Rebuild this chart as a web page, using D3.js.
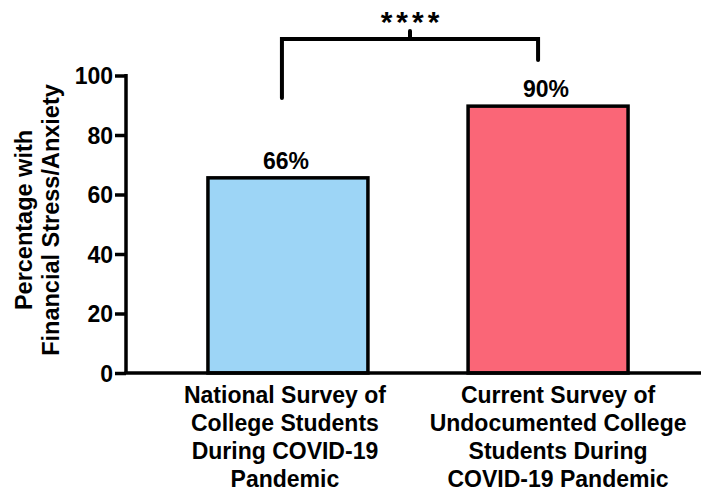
<!DOCTYPE html>
<html><head><meta charset="utf-8">
<script src="https://cdn.jsdelivr.net/npm/d3@7"></script>
<style>
body{margin:0;background:#fff;}
text{font-family:"Liberation Sans",Arial,sans-serif;font-weight:bold;fill:#000;}
</style></head>
<body>
<svg id="c" width="701" height="492"></svg>
<script>
const categories = [
  ["National Survey of","College Students","During COVID-19","Pandemic"],
  ["Current Survey of","Undocumented College","Students During","COVID-19 Pandemic"]
];
const values = [65.6, 89.7];
const valueLabels = ["66%", "90%"];
const colors = ["#9dd5f6", "#fa6677"];
const yTicks = [0, 20, 40, 60, 80, 100];
const yTitle = ["Percentage with", "Financial Stress/Anxiety"];
const sigLabel = "****";

const svg = d3.select("#c");
const ids = [0, 1];
const x = d3.scaleBand().domain(ids).range([126, 710]).paddingInner(0.385).paddingOuter(0.315);
const y = d3.scaleLinear().domain([0, 100]).range([373, 75.5]);

// bars
svg.selectAll("rect.bar").data(ids).enter().append("rect")
  .attr("x", i => x(i)).attr("y", i => y(values[i]))
  .attr("width", x.bandwidth()).attr("height", i => y(0) - y(values[i]))
  .attr("fill", i => colors[i]).attr("stroke", "#000").attr("stroke-width", 3.5);

// value labels
svg.selectAll("text.val").data(ids).enter().append("text")
  .attr("x", i => x(i) + x.bandwidth()/2 - 2).attr("y", i => y(values[i]) - 9)
  .attr("text-anchor", "middle").attr("font-size", 23).text(i => valueLabels[i]);

// y axis
const yAxis = d3.axisLeft(y).tickValues(yTicks).tickSize(11).tickPadding(2).tickSizeOuter(0);
const gy = svg.append("g").attr("transform", "translate(126,0)").call(yAxis);
gy.select(".domain").attr("stroke", "#000").attr("stroke-width", 3.5).attr("d", `M0,${y(100)-1.5}V${y(0)}`);
gy.selectAll(".tick line").attr("stroke", "#000").attr("stroke-width", 3.5);
gy.selectAll(".tick text").attr("font-size", 23).attr("font-family", "Liberation Sans, Arial, sans-serif").attr("font-weight", "bold").attr("dy", "0.36em");

// x axis line
svg.append("line").attr("x1", 124.5).attr("x2", 710).attr("y1", y(0)).attr("y2", y(0))
  .attr("stroke", "#000").attr("stroke-width", 3.5);

// category labels
ids.forEach(i => {
  const cx = x(i) + x.bandwidth()/2 + (i === 1 ? 10 : -3);
  const t = svg.append("text").attr("text-anchor", "middle").attr("font-size", 23);
  categories[i].forEach((ln, k) => {
    t.append("tspan").attr("x", cx).attr("y", 403 + k*28).text(ln);
  });
});

// y title
const yt = svg.append("text").attr("text-anchor", "middle").attr("font-size", 23.5)
  .attr("transform", "translate(0,220) rotate(-90)");
yTitle.forEach((ln, k) => yt.append("tspan").attr("x", 0).attr("y", 32 + k*27).text(ln));

// significance bracket
const cx0 = x(0) + x.bandwidth()/2 - 6, cx1 = x(1) + x.bandwidth()/2 - 10;
const by = 39;
svg.append("path")
  .attr("d", `M${cx0},98V${by}H${cx1}V60M${(cx0+cx1)/2},${by}V31`)
  .attr("fill", "none").attr("stroke", "#000").attr("stroke-width", 4).attr("stroke-linecap", "round");
svg.append("text").attr("x", (cx0+cx1)/2 + 2).attr("y", 32).attr("text-anchor", "middle")
  .attr("font-size", 30).attr("letter-spacing", 4).text(sigLabel);
</script>
</body></html>
